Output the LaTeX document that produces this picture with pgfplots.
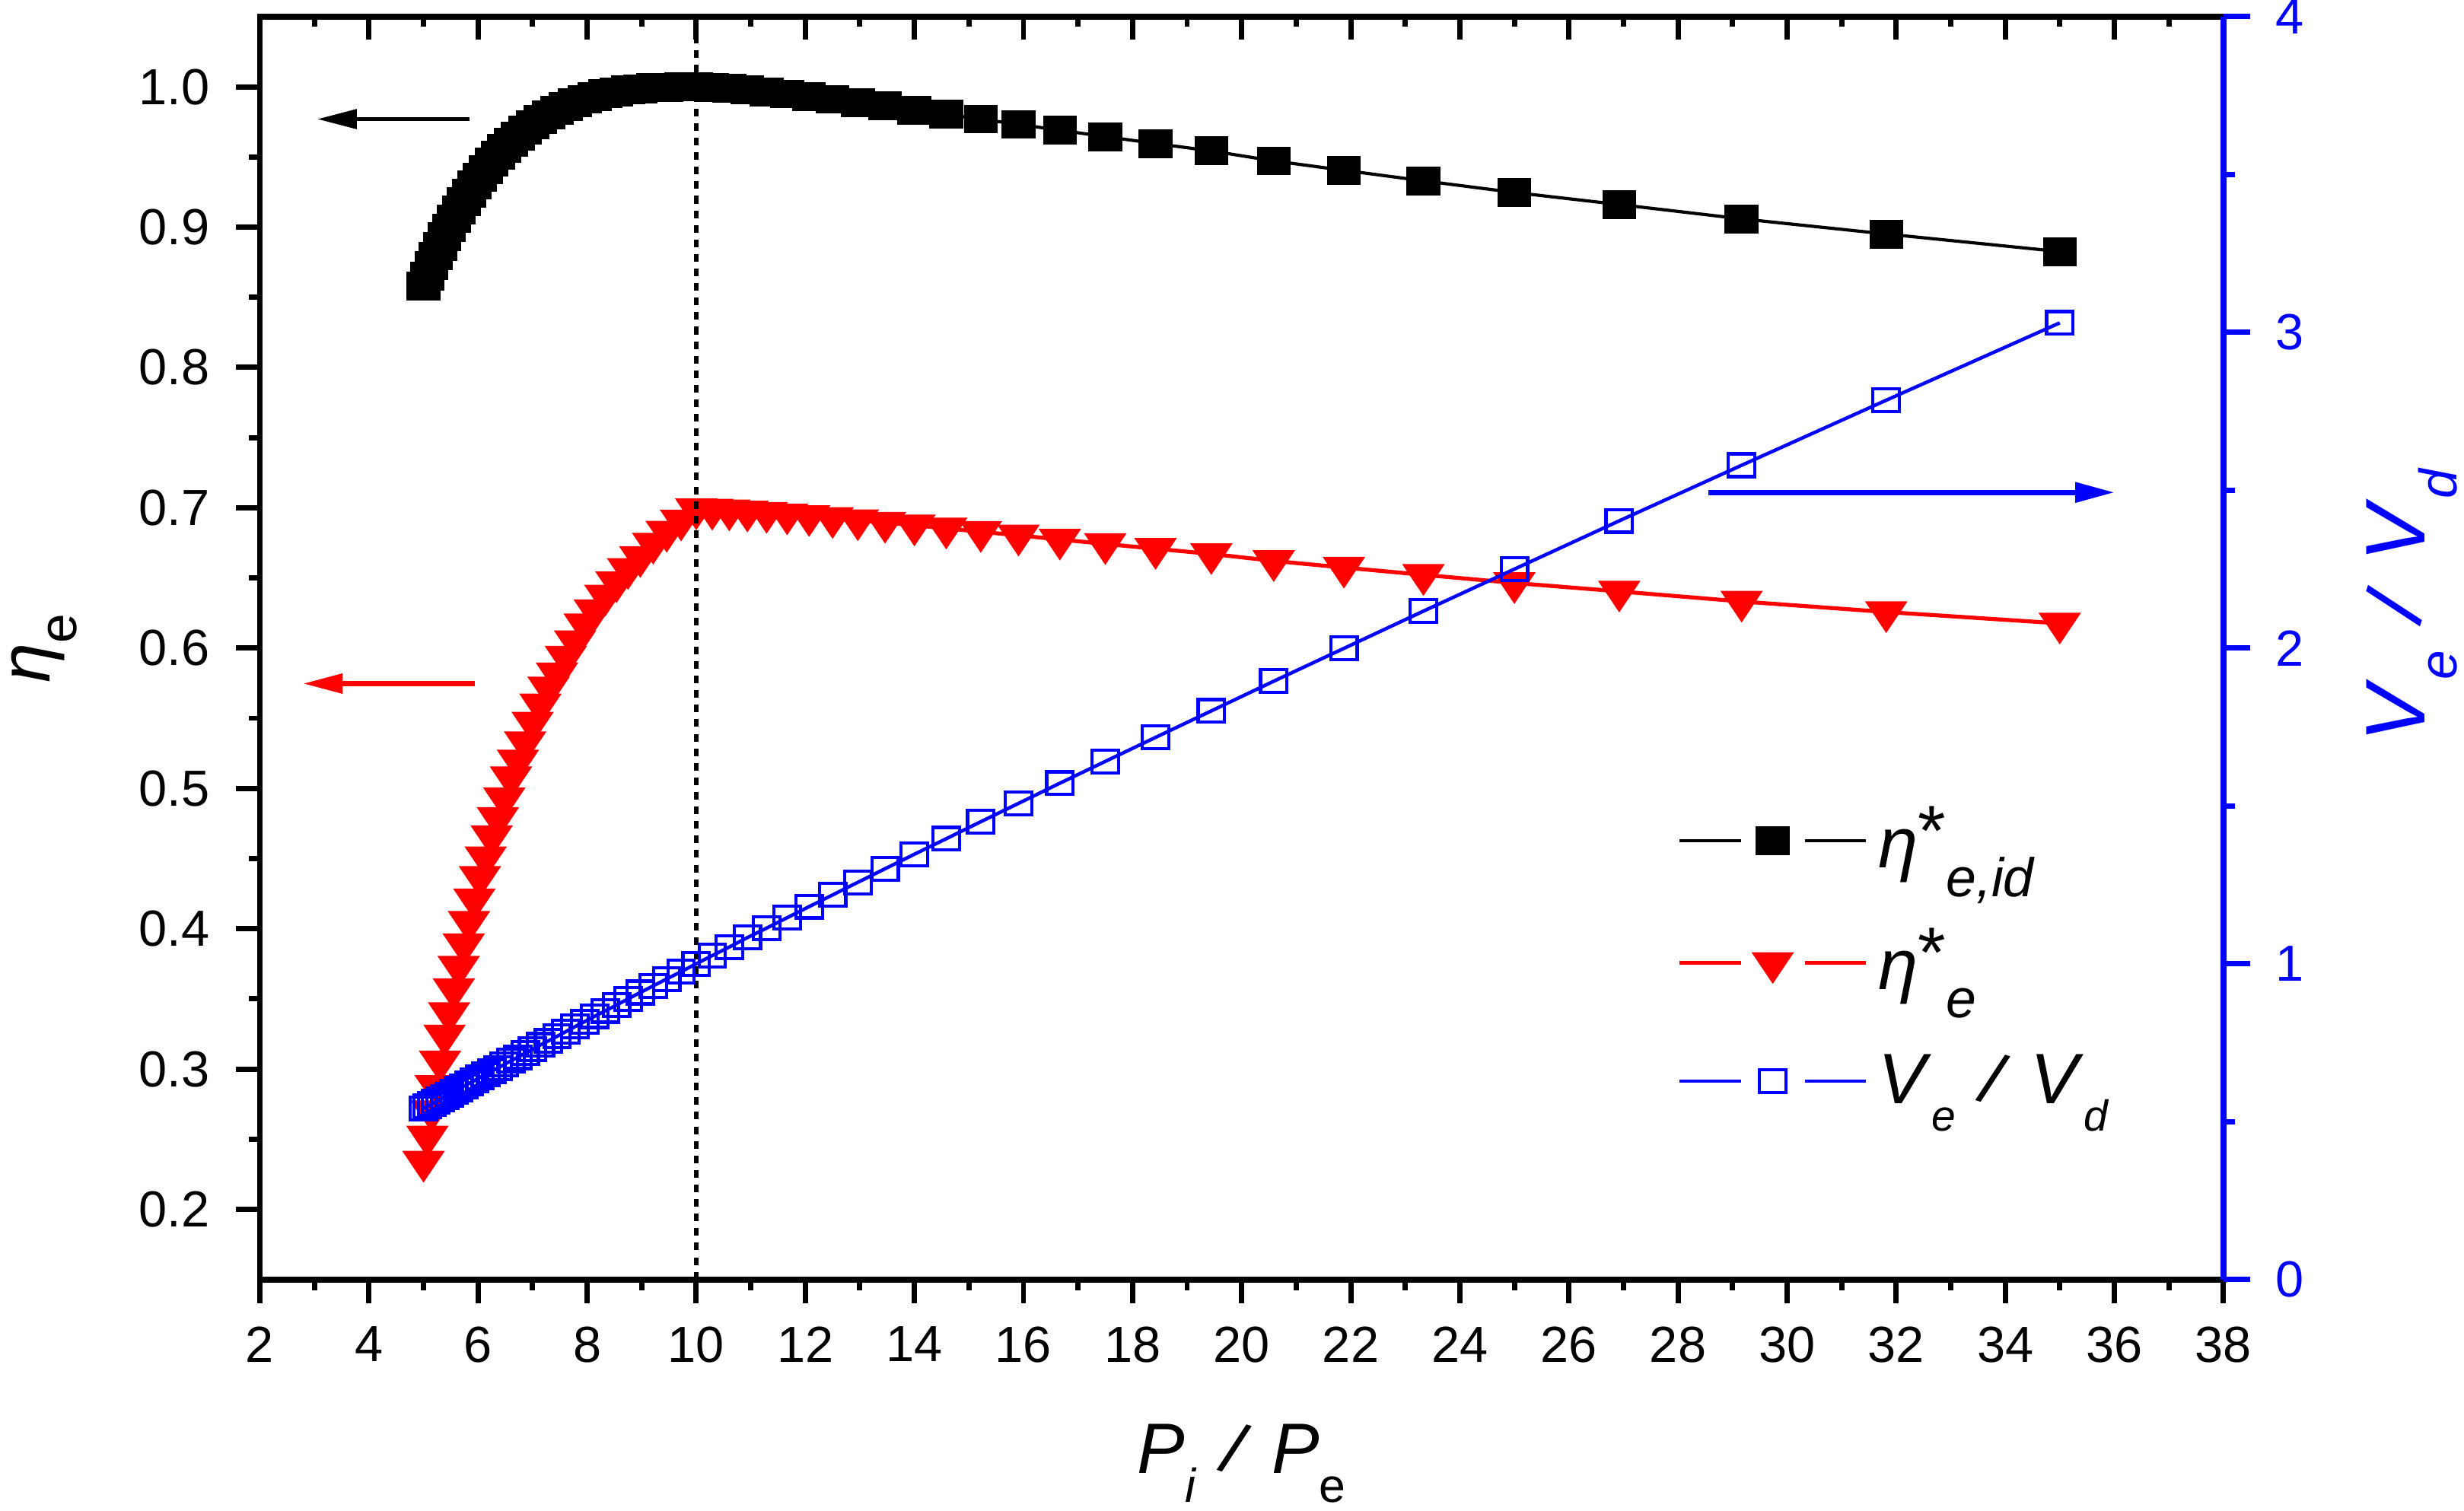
\documentclass[border=0pt]{standalone}
\usepackage{fontspec}
\setmainfont{Liberation Sans}
\usepackage{graphicx}
\usepackage{pgfplots}
\pgfplotsset{compat=1.18}
\usepackage{pgfplotstable}
\usetikzlibrary{arrows.meta}

\definecolor{myblue}{RGB}{0,0,255}
\definecolor{myred}{RGB}{255,0,0}
\newcommand{\fs}[1]{\fontsize{#1}{#1}\selectfont}
\newcommand{\lowered}[3]{\raisebox{-#1}{\fontsize{#2}{#2}\selectfont #3}}
\newcommand{\wsl}{\rotatebox[origin=c]{-18}{/}}

\pgfplotstableread{
x eid e v
5.000 0.8580 0.2340 0.542
5.072 0.8652 0.2520 0.548
5.147 0.8724 0.2700 0.556
5.224 0.8794 0.2880 0.563
5.303 0.8862 0.3055 0.570
5.385 0.8930 0.3240 0.578
5.469 0.8995 0.3400 0.586
5.556 0.9060 0.3570 0.594
5.645 0.9122 0.3730 0.603
5.738 0.9183 0.3890 0.612
5.833 0.9243 0.4050 0.621
5.932 0.9300 0.4210 0.630
6.034 0.9356 0.4370 0.640
6.140 0.9410 0.4510 0.649
6.250 0.9462 0.4660 0.660
6.364 0.9512 0.4790 0.670
6.481 0.9560 0.4930 0.681
6.604 0.9606 0.5080 0.693
6.731 0.9650 0.5200 0.704
6.863 0.9691 0.5330 0.717
7.000 0.9730 0.5470 0.729
7.143 0.9767 0.5600 0.743
7.292 0.9801 0.5720 0.756
7.447 0.9832 0.5820 0.770
7.609 0.9861 0.5940 0.785
7.778 0.9888 0.6050 0.801
7.955 0.9911 0.6170 0.817
8.140 0.9932 0.6270 0.834
8.333 0.9950 0.6375 0.851
8.537 0.9965 0.6470 0.869
8.750 0.9977 0.6565 0.889
8.974 0.9986 0.6650 0.909
9.211 0.9993 0.6745 0.930
9.459 0.9997 0.6830 0.952
9.722 1.0000 0.6910 0.975
10.000 1.0000 0.6990 1.000
10.294 0.9996 0.6987 1.026
10.606 0.9988 0.6982 1.053
10.938 0.9977 0.6974 1.083
11.290 0.9964 0.6965 1.113
11.667 0.9949 0.6954 1.146
12.069 0.9931 0.6942 1.181
12.500 0.9911 0.6928 1.218
12.963 0.9888 0.6912 1.258
13.462 0.9863 0.6894 1.301
14.000 0.9835 0.6875 1.347
14.583 0.9804 0.6853 1.396
15.217 0.9770 0.6829 1.450
15.909 0.9732 0.6803 1.508
16.667 0.9691 0.6774 1.572
17.500 0.9645 0.6742 1.641
18.421 0.9596 0.6708 1.717
19.444 0.9543 0.6671 1.801
20.588 0.9472 0.6621 1.895
21.875 0.9405 0.6574 1.999
23.333 0.9330 0.6522 2.117
25.000 0.9247 0.6464 2.250
26.923 0.9161 0.6404 2.403
29.167 0.9059 0.6332 2.579
31.818 0.8951 0.6257 2.785
35.000 0.8826 0.6176 3.030
}\data

\pgfplotsset{
  myleg/.style={legend image code/.code={
    \draw[##1, mark=none] (0pt,0pt) -- (11.6pt,0pt);
    \draw[##1, mark=none] (23.7pt,0pt) -- (35.3pt,0pt);
    \draw[##1] plot coordinates {(17.65pt,0pt)};
  }},
  common/.style={
    scale only axis, width=371.3pt, height=238.85pt,
    xmin=2, xmax=38,
    /pgf/number format/assume math mode=true,
  }
}

\begin{document}
\begin{tikzpicture}
\path[use as bounding box] (-49.15pt,-43.74pt) rectangle (416.8pt,242.0pt);
% main (left) axis
\begin{axis}[
  common,
  ymin=0.15, ymax=1.05,
  xtick={2,4,...,38}, minor x tick num=1,
  ytick={0.2,0.3,0.4,0.5,0.6,0.7,0.8,0.9,1.0}, minor y tick num=1,
  xtick pos=bottom, ytick pos=left, tick align=outside,
  major tick length=4.5pt, minor tick length=2.1pt,
  major tick style={black, line width=1pt},
  minor tick style={black, line width=1pt},
  axis line style={line width=1.1pt},
  tick label style={font=\fs{9.6}},
  xticklabel style={yshift=-0.9pt},
  yticklabel style={xshift=-1.5pt, /pgf/number format/.cd, fixed, fixed zerofill, precision=1},
  xlabel={\fs{13.5}\textit{P}\lowered{5.4pt}{9}{\textit{i}} \wsl{} \textit{P}\lowered{5.4pt}{9}{e}},
  xlabel style={at={([yshift=-36.7pt]rel axis cs:0.5,0)}, anchor=base},
  ylabel={\fs{13.5}\textit{η}\lowered{5pt}{10}{e}},
  ylabel style={at={([xshift=-39.7pt]rel axis cs:0,0.5)}, rotate=0, anchor=base},
  legend style={at={(rel axis cs:0.7214,0.384)}, anchor=north west,
    draw=none, fill=none, inner sep=0pt, row sep=6pt,
    font=\fs{13.5}, cells={anchor=west}},
  myleg,
]
\addplot[black, line width=0.6pt, mark=square*, mark size=2.95pt,
  mark options={solid, fill=black, line width=0.5pt, yscale=0.84}] table[x=x, y=eid]{\data};
\addlegendentry{\textit{η}\raisebox{2.3pt}{*}\lowered{5.5pt}{10.3}{\textit{e,id}}}
\addplot[myred, line width=0.75pt, mark=triangle*, mark size=4.0pt,
  mark options={solid, fill=myred, line width=0.6pt, rotate=180, yscale=0.86}] table[x=x, y=e]{\data};
\addlegendentry{\textit{η}\raisebox{2.3pt}{*}\lowered{5.3pt}{10.3}{\textit{e}}}
\addlegendimage{myblue, line width=0.65pt, mark=square, mark size=2.5pt,
  mark options={solid, fill=white, line width=0.6pt, yscale=0.86}}
\addlegendentry{\textit{V}\lowered{5.2pt}{8.2}{\textit{e}} \wsl{} \textit{V}\lowered{5.2pt}{8.2}{\textit{d}}}
\draw[black, line width=0.85pt, -{Triangle[length=7.5pt,width=3.6pt]}]
  (axis cs:5.85,0.977) -- (axis cs:3.05,0.977);
\draw[myred, line width=1.0pt, -{Triangle[length=7.5pt,width=3.6pt]}]
  (axis cs:5.94,0.5747) -- (axis cs:2.79,0.5747);
\end{axis}
% top ticks pointing inside
\begin{axis}[
  common,
  ymin=0, ymax=1,
  axis x line=top, axis y line=none,
  x axis line style={-, line width=1.1pt},
  xtick={2,4,...,38}, minor x tick num=1, xticklabels={},
  tick align=inside,
  major tick length=4.3pt, minor tick length=1.9pt,
  major tick style={black, line width=1pt},
  minor tick style={black, line width=1pt},
]
\end{axis}
% right axis
\begin{axis}[
  common,
  ymin=0, ymax=4,
  axis x line=none, axis y line=right,
  y axis line style={-, myblue, line width=1.2pt},
  ytick={0,1,2,3,4}, minor y tick num=1,
  tick align=outside,
  major tick length=5pt, minor tick length=2.2pt,
  major tick style={myblue, line width=1pt},
  minor tick style={myblue, line width=1pt},
  yticklabel style={myblue, font=\fs{9.6}, xshift=1.4pt},
  ylabel={\fs{16}\textit{V}\lowered{6pt}{10}{\textit{e}} \wsl{} \textit{V}\lowered{6pt}{10}{\textit{d}}},
  ylabel style={myblue, at={([xshift=38.1pt]rel axis cs:1,0.534)}, rotate=0, anchor=base},
]
\addplot[myblue, line width=0.65pt, mark=square, mark size=2.5pt,
  mark options={solid, fill=white, line width=0.6pt, yscale=0.86}] table[x=x, y=v]{\data};
\draw[myblue, line width=0.95pt, -{Triangle[length=7.4pt,width=3.7pt]}]
  (axis cs:28.56,2.493) -- (axis cs:36.0,2.493);
\draw[black, line width=0.85pt, dash pattern=on 1.45pt off 1.3pt]
  (axis cs:10,0) -- (axis cs:10,4);
\end{axis}
\end{tikzpicture}
\end{document}
